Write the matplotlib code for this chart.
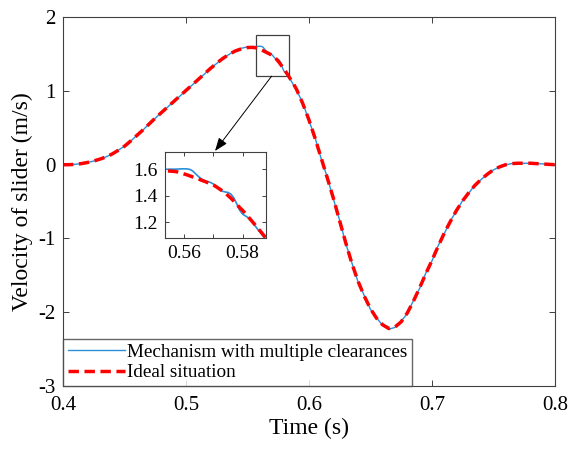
import matplotlib
matplotlib.use('Agg')
import matplotlib.pyplot as plt
from matplotlib.patches import Rectangle

plt.rcParams['font.family'] = ['Liberation Serif', 'DejaVu Serif']
plt.rcParams['axes.unicode_minus'] = False

# time (s) - coarse grid outside the zoomed window, fine grid inside it
time = [0.400, 0.405, 0.410, 0.415, 0.420, 0.425, 0.430, 0.435, 0.440, 0.445,
        0.450, 0.455, 0.460, 0.465, 0.470, 0.475, 0.480, 0.485, 0.490, 0.495,
        0.500, 0.505, 0.510, 0.515, 0.520, 0.525, 0.530, 0.535, 0.540, 0.545,
        0.550,
        0.553, 0.554, 0.555, 0.556, 0.557, 0.558, 0.559, 0.560, 0.561, 0.562,
        0.563, 0.564, 0.565, 0.566, 0.567, 0.568, 0.569, 0.570, 0.571, 0.572,
        0.573, 0.574, 0.575, 0.576, 0.577, 0.578, 0.579, 0.580, 0.581, 0.582,
        0.583, 0.584, 0.585, 0.586, 0.587, 0.588,
        0.590, 0.595, 0.600, 0.605, 0.610, 0.615, 0.620, 0.625, 0.630, 0.635,
        0.640, 0.645, 0.650, 0.655, 0.660, 0.665, 0.670, 0.675, 0.680, 0.685,
        0.690, 0.695, 0.700, 0.705, 0.710, 0.715, 0.720, 0.725, 0.730, 0.735,
        0.740, 0.745, 0.750, 0.755, 0.760, 0.765, 0.770, 0.775, 0.780, 0.785,
        0.790, 0.795, 0.800]

# ideal slider velocity (m/s)
ideal = [0.000, 0.000, 0.005, 0.015, 0.030, 0.050, 0.075, 0.105, 0.145, 0.195,
         0.250, 0.320, 0.395, 0.470, 0.550, 0.630, 0.705, 0.780, 0.855, 0.930,
         1.005, 1.080, 1.155, 1.230, 1.305, 1.375, 1.440, 1.495, 1.540, 1.570,
         1.588,
         1.590, 1.589, 1.588, 1.586, 1.584, 1.580, 1.574, 1.566, 1.559, 1.551,
         1.543, 1.535, 1.527, 1.518, 1.510, 1.501, 1.492, 1.483, 1.469, 1.454,
         1.439, 1.424, 1.403, 1.383, 1.360, 1.336, 1.312, 1.290, 1.266, 1.240,
         1.214, 1.188, 1.160, 1.135, 1.108, 1.080,
         1.020, 0.830, 0.610, 0.360, 0.090, -0.180, -0.460, -0.760, -1.060, -1.340,
         -1.580, -1.780, -1.950, -2.080, -2.170, -2.220, -2.200, -2.130, -2.010, -1.850,
         -1.670, -1.480, -1.300, -1.110, -0.930, -0.770, -0.620, -0.490, -0.380, -0.280,
         -0.200, -0.130, -0.070, -0.030, 0.000, 0.015, 0.020, 0.020, 0.020, 0.015,
         0.010, 0.005, 0.000]

# slider velocity with multiple joint clearances (m/s)
clearance = [0.000, 0.001, 0.006, 0.014, 0.031, 0.049, 0.076, 0.106, 0.143, 0.196,
             0.252, 0.318, 0.397, 0.468, 0.552, 0.628, 0.708, 0.778, 0.858, 0.927,
             1.009, 1.077, 1.159, 1.226, 1.309, 1.371, 1.444, 1.493, 1.547, 1.578,
             1.596,
             1.600, 1.601, 1.602, 1.602, 1.602, 1.603, 1.604, 1.605, 1.604, 1.600,
             1.588, 1.566, 1.545, 1.528, 1.515, 1.508, 1.502, 1.490, 1.472, 1.450,
             1.436, 1.430, 1.426, 1.414, 1.385, 1.340, 1.292, 1.262, 1.248, 1.234,
             1.210, 1.182, 1.152, 1.124, 1.096, 1.068,
             1.010, 0.838, 0.602, 0.368, 0.082, -0.172, -0.468, -0.752, -1.068, -1.332,
             -1.588, -1.772, -1.958, -2.074, -2.178, -2.230, -2.205, -2.122, -2.018, -1.842,
             -1.678, -1.472, -1.308, -1.102, -0.938, -0.764, -0.626, -0.486, -0.384, -0.277,
             -0.203, -0.128, -0.072, -0.028, -0.002, 0.016, 0.021, 0.019, 0.021, 0.014,
             0.011, 0.004, 0.001]

blue = '#2a8fd8'
red = '#ff0000'
frame = '#404040'

fig = plt.figure(figsize=(5.72, 4.51), dpi=100)
ax = fig.add_axes([0.110, 0.144, 0.860, 0.818])

ax.plot(time, clearance, color=blue, lw=1.0, label='Mechanism with multiple clearances')
ax.plot(time, ideal, color=red, lw=2.5, dashes=(3, 1.6), label='Ideal situation')

ax.set_xlim(0.4, 0.8)
ax.set_ylim(-3, 2)
ax.set_xticks([0.4, 0.5, 0.6, 0.7, 0.8])
ax.set_xticklabels(['0.4', '0.5', '0.6', '0.7', '0.8'])
ax.set_yticks([-3, -2, -1, 0, 1, 2])
ax.tick_params(direction='in', top=True, right=True, labelsize=15, colors=frame,
               labelcolor='black', length=4, width=0.7, pad=5)
ax.tick_params(axis='x', pad=7)
for s in ax.spines.values():
    s.set_color(frame)
    s.set_linewidth(0.8)
ax.set_xlabel('Time (s)', fontsize=17, labelpad=2)
ax.set_ylabel('Velocity of slider (m/s)', fontsize=17, labelpad=4)

leg = ax.legend(loc='lower left', fontsize=13.8, borderaxespad=0, fancybox=False,
                handlelength=3.0, handletextpad=0.1, borderpad=0.25, labelspacing=0.15)
leg.get_frame().set_edgecolor(frame)
leg.get_frame().set_linewidth(1.0)

# zoom window on the main axes
ax.add_patch(Rectangle((0.557, 1.20), 0.027, 0.56, fill=False, ec=frame, lw=0.9))

# inset
axin = fig.add_axes([0.288, 0.4716, 0.177, 0.192])
axin.plot(time, clearance, color=blue, lw=1.2)
axin.plot(time, ideal, color=red, lw=2.5, dashes=(3, 1.6))
axin.set_xlim(0.5534, 0.588)
axin.set_ylim(1.079, 1.734)
axin.set_xticks([0.56, 0.57, 0.58])
axin.set_xticklabels(['0.56', '', '0.58'])
axin.set_yticks([1.2, 1.4, 1.6])
axin.tick_params(direction='in', top=True, right=True, labelsize=14, colors=frame,
                 labelcolor='black', length=3, width=0.7, pad=5)
for s in axin.spines.values():
    s.set_color(frame)
    s.set_linewidth(0.8)

# arrow from zoom window to inset
ax.annotate('', xy=(215 / 572, 1 - 151 / 451), xycoords='figure fraction',
            xytext=(0.5697, 1.20), textcoords='data',
            arrowprops=dict(arrowstyle='-|>,head_length=0.8,head_width=0.3',
                            color='black', lw=0.7, shrinkA=0, shrinkB=0))

fig.savefig('out.png', dpi=100)
